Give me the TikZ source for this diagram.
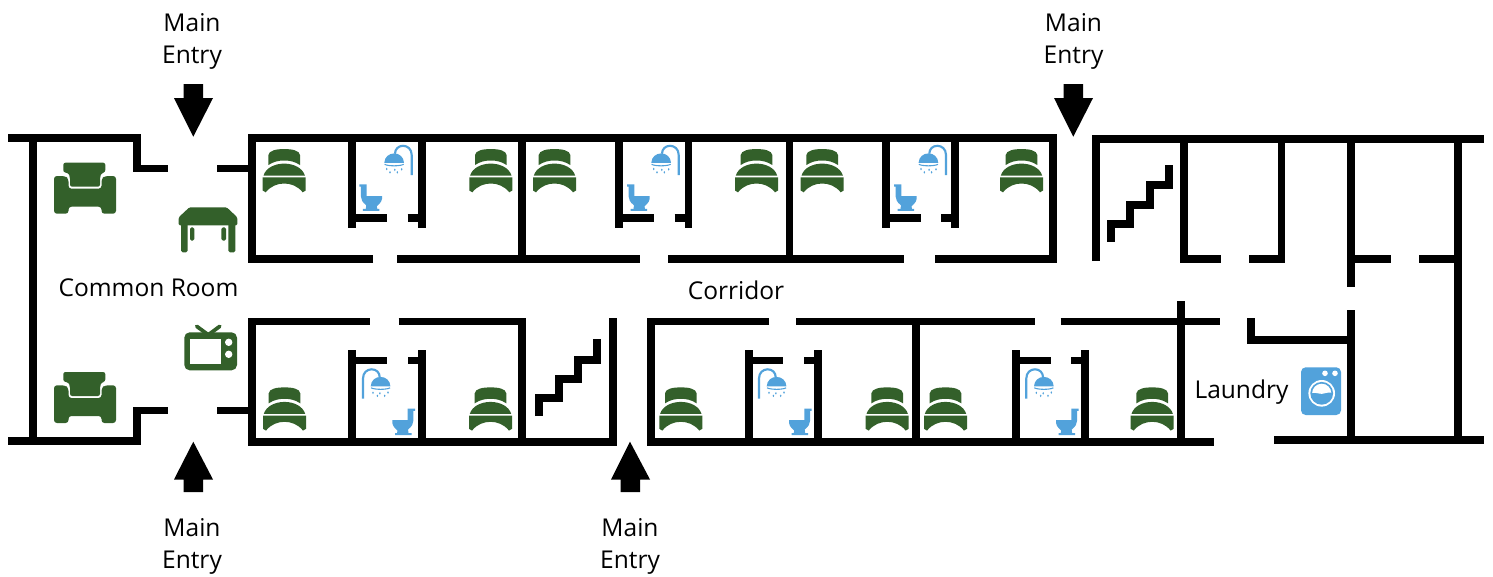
\documentclass[tikz,border=0pt]{standalone}
\usepackage{fontspec}
\setmainfont{Open Sans}
\definecolor{grn}{HTML}{33602A}
\definecolor{blu}{HTML}{52A2DB}
\tikzset{
  x=0.75pt,y=-0.75pt,
  wall/.style={draw=black,line width=5.8pt,line cap=butt,line join=miter},
  entry/.style={fill=black,draw=none},
  lbl/.style={font=\fontsize{18.4}{24}\selectfont,align=center,inner sep=0pt,text=black},
  bedicon/.pic={
    \begin{scope}[fill=grn,draw=none]
    \fill (5.7,6) .. controls (6,1.5) and (14,0) .. (21.5,0) .. controls (29,0) and (37,1.5) .. (37.3,6) -- (37.3,16) .. controls (32,12.5) and (27,11.5) .. (21.5,11.5) .. controls (16,11.5) and (11,12.5) .. (5.7,16) -- cycle;
    \fill (0.8,26.6) .. controls (3,19) and (12,14.6) .. (21.5,14.6) .. controls (31,14.6) and (40,19) .. (42.2,26.6) -- cycle;
    \fill (0,28.4) -- (43,28.4) -- (43,41.5) -- (40,43.3) .. controls (35,37) and (28,34.5) .. (21.5,34.5) .. controls (15,34.5) and (8,37) .. (3,43.3) -- (0,41.5) -- cycle;
    \end{scope}
  },
  chairicon/.pic={
    \fill[grn,rounded corners=1.6pt] (9.3,0) -- (51.3,0) -- (51.3,9.5) -- (47.5,10.5) -- (46,14) -- (46,24) -- (16,24) -- (16,14) -- (14.5,10.5) -- (9.3,9.5) -- cycle;
    \fill[grn,rounded corners=2.2pt] (0,13.3) -- (11,13.3) -- (14.5,16) -- (14.5,26) -- (47.5,26) -- (47.5,16) -- (51,13.3) -- (62,13.3) -- (62,51) -- (47.5,51) -- (47.5,44) -- (14.5,44) -- (14.5,51) -- (0,51) -- cycle;
  },
  tableicon/.pic={
    \fill[grn,rounded corners=1pt] (10.7,0) -- (48,0) -- (58.6,10) -- (58.6,18) -- (0,18) -- (0,10) -- cycle;
    \fill[grn,rounded corners=1.2pt] (2.3,16) rectangle (9,45);
    \fill[grn,rounded corners=1.2pt] (49.7,16) rectangle (56.7,45);
    \fill[grn,rounded corners=1.2pt] (11.3,20) rectangle (15.7,33.3);
    \fill[grn,rounded corners=1.2pt] (42.7,20) rectangle (47.3,33.3);
  },
  tvicon/.pic={
    \draw[grn,line width=2.8pt,line cap=round] (12.4,-6) -- (24,2.5) -- (35.5,-6);
    \fill[grn,rounded corners=4pt] (0,0) rectangle (52.7,38);
    \fill[white] (6,6.7) rectangle (36.7,31.4);
    \fill[white] (44.4,10) circle[radius=3.7];
    \fill[white] (44.4,22) circle[radius=3.7];
  },
  washicon/.pic={
    \fill[blu,rounded corners=3.5pt] (0,0) rectangle (40,47.7);
    \fill[white] (24,6) circle[radius=2.8];
    \fill[white] (34,6) circle[radius=2.8];
    \fill[white] (20.7,26) circle[radius=13.3];
    \fill[blu] (20.7,26) circle[radius=11.4];
    \begin{scope}
      \clip (20.7,26) circle[radius=9.6];
      \fill[white] (8,26.5) .. controls (14,24) and (18,27) .. (21,26.5) .. controls (25,26) and (28,24) .. (34,26.5) -- (34,10) -- (8,10) -- cycle;
    \end{scope}
  },
  showericon/.pic={
    \draw[blu,line width=1.6pt] (27.7,30) -- (27.7,10) .. controls (27.7,4) and (23.5,0.8) .. (19,0.8) .. controls (14.5,0.8) and (11,4) .. (11,8.7);
    \fill[blu] (0.3,17.8) .. controls (0.5,12) and (5,8.4) .. (10.2,8.4) .. controls (15.4,8.4) and (19.7,12) .. (20,17.8) -- cycle;
    \draw[blu,line width=0.8pt] (0.6,19.3) .. controls (4,21.3) and (16,21.3) .. (19.7,19.3);
    \foreach \dx/\dy in {2.7/24,6/27.3,10.8/24.8,13.3/27.3,17.7/24.3}
      \fill[blu] (\dx,\dy) ellipse[x radius=0.8,y radius=1.3];
  },
  toileticon/.pic={
    \fill[blu] (0,0) -- (7.3,0) -- (7.3,11.7) -- (22.7,11.7) -- (22.7,14.5) .. controls (22,18.5) and (19,20.5) .. (17.5,22) -- (18,24.5) -- (20,24.5) -- (20,26.5) -- (3.5,26.5) -- (3.5,24.5) -- (6.5,24.5) -- (7,21) .. controls (3,18) and (1.6,15) .. (1.6,12) -- (1.6,2.3) -- (0,2.3) -- cycle;
  }
}
\begin{document}
\begin{tikzpicture}
\useasboundingbox (0,0) rectangle (1493,576);
% common room
\draw[wall] (8,138) -- (137,138) -- (137,168.5) -- (168,168.5);
\draw[wall] (8,441) -- (137,441) -- (137,410.5) -- (168,410.5);
\draw[wall] (33,138) -- (33,441);
\draw[wall] (217,168.5) -- (252,168.5);
\draw[wall] (217,410.5) -- (252,410.5);
% top row
\draw[wall] (373,259) -- (252,259) -- (252,138) -- (1052.7,138) -- (1052.7,259) -- (934.7,259);
\draw[wall] (397,259) -- (640,259);
\draw[wall] (668,259) -- (903.7,259);
\draw[wall] (522.3,138) -- (522.3,259);
\draw[wall] (789.5,138) -- (789.5,259);
\foreach \la/\ra/\ea/\sb in {352/422/387/407.7,619.3/688.5/653.7/674.7,885.7/955.2/920.7/941.3}{
  \draw[wall] (\la,138) -- (\la,227.7);
  \draw[wall] (\ra,138) -- (\ra,227.7);
  \draw[wall] (\la,217.8) -- (\ea,217.8);
  \draw[wall] (\sb,217.8) -- (\ra,217.8);
}
% bottom row left
\draw[wall] (369.5,321.5) -- (252,321.5) -- (252,442) -- (612.8,442) -- (612.8,318);
\draw[wall] (398.7,321.5) -- (521.7,321.5) -- (521.7,442);
% bottom row right
\draw[wall] (769,321.5) -- (651.3,321.5) -- (651.3,442) -- (1214.3,442);
\draw[wall] (796.3,321.5) -- (1035.3,321.5);
\draw[wall] (1060.7,321.5) -- (1219.7,321.5);
\draw[wall] (916.3,321.5) -- (916.3,442);
\draw[wall] (1181,301) -- (1181,442);
\foreach \la/\ra/\ea/\sb in {352/422/387/408,749.3/818/783.3/804,1016/1085/1050.7/1071}{
  \draw[wall] (\la,350) -- (\la,442);
  \draw[wall] (\ra,350) -- (\ra,442);
  \draw[wall] (\la,360.5) -- (\ea,360.5);
  \draw[wall] (\sb,360.5) -- (\ra,360.5);
}
% stairs
\draw[wall] (539.3,416) -- (539.3,398) -- (558.7,398) -- (558.7,379) -- (578,379) -- (578,359.7) -- (597.3,359.7) -- (597.3,339);
\draw[wall] (1111,241.7) -- (1111,224) -- (1130,224) -- (1130,205) -- (1149.7,205) -- (1149.7,185.3) -- (1168.7,185.3) -- (1168.7,165);
% right block
\draw[wall] (1096,261) -- (1096,139) -- (1483.7,139);
\draw[wall] (1220.7,258.8) -- (1183.7,258.8) -- (1183.7,139);
\draw[wall] (1249,258.8) -- (1281.5,258.8) -- (1281.5,139);
\draw[wall] (1351,139) -- (1351,286.7);
\draw[wall] (1351,258.8) -- (1391.3,258.8);
\draw[wall] (1419,258.8) -- (1458,258.8);
\draw[wall] (1458,139) -- (1458,440.3);
\draw[wall] (1351,310.3) -- (1351,440.3);
\draw[wall] (1274.3,440.3) -- (1483.7,440.3);
\draw[wall] (1251,318.3) -- (1251,340) -- (1351,340);
% beds
\foreach \bx in {262.7,469.3,533,735,800.7,1000} \pic at (\bx,149) {bedicon};
\foreach \bx in {263,469,659.3,865.7,924,1130.7} \pic at (\bx,387.3) {bedicon};
% furniture
\pic at (54,162.7) {chairicon};
\pic at (54,372) {chairicon};
\pic at (178.7,207.3) {tableicon};
\pic at (184.3,332.3) {tvicon};
\pic at (1301,367.3) {washicon};
% bathrooms
\foreach \sx/\tx in {384/359.3,651/627,918.3/894}{
  \pic at (\sx,145) {showericon};
  \pic at (\tx,184.3) {toileticon};
}
\foreach \sx/\tx in {390.7/415,786.7/811.7,1054/1078.7}{
  \pic[xscale=-1] at (\sx,368.5) {showericon};
  \pic[xscale=-1] at (\tx,408.5) {toileticon};
}
% entries
\fill[entry] (183.5,84) -- (203,84) -- (203,98) -- (213,98) -- (193.3,136.7) -- (174,98) -- (183.5,98) -- cycle;
\fill[entry] (1063.5,84) -- (1083,84) -- (1083,98) -- (1093,98) -- (1073.3,136.7) -- (1054,98) -- (1063.5,98) -- cycle;
\fill[entry] (183.5,492) -- (203,492) -- (203,479.5) -- (213,479.5) -- (193.3,441.7) -- (174,479.5) -- (183.5,479.5) -- cycle;
\fill[entry] (620.5,492) -- (640,492) -- (640,479.5) -- (650,479.5) -- (630,441.7) -- (611,479.5) -- (620.5,479.5) -- cycle;
% labels
\node[lbl] (e1) at (192,41) {Main\\Entry};
\node[lbl] (e2) at (1073.5,41) {Main\\Entry};
\node[lbl] (e3) at (192,546) {Main\\Entry};
\node[lbl] (e4) at (630,546) {Main\\Entry};
\node[lbl] (common) at (148.5,288) {Common Room};
\node[lbl] (corr) at (736,290) {Corridor};
\node[lbl] (laund) at (1241.5,392) {Laundry};
\end{tikzpicture}
\end{document}
